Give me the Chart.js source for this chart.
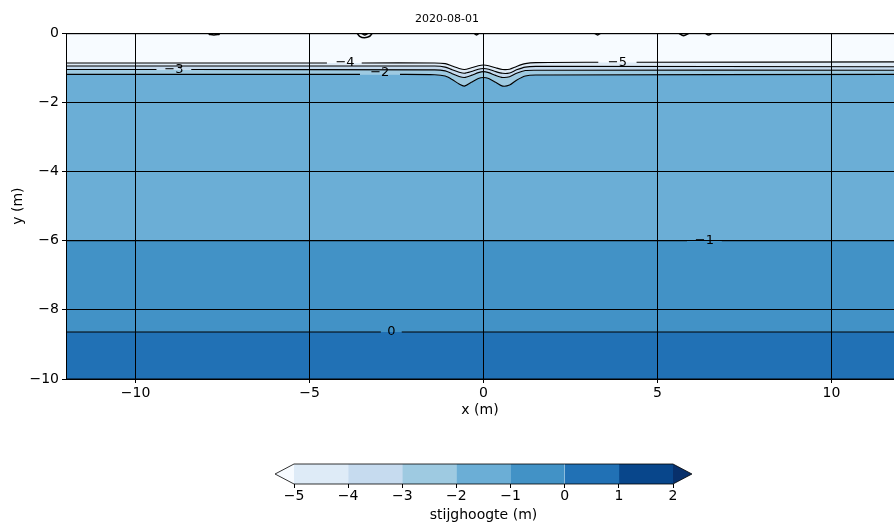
<!DOCTYPE html>
<html>
<head>
<meta charset="utf-8">
<script src="https://cdn.jsdelivr.net/npm/chart.js@4.4.1/dist/chart.umd.min.js"></script>
<style>
    body { margin: 0; background: #fff; }
    .plot { width: 894px; height: 430px; position: relative; }
    .cbar { width: 894px; height: 94px; position: relative; }
</style>
</head>
<body>
<div class="plot"><canvas id="contourChart"></canvas></div>
<div class="cbar"><canvas id="colorbarChart"></canvas></div>
<script>
// Axis ticks
const xTicks = [-10, -5, 0, 5, 10];
const yTicks = [0, -2, -4, -6, -8, -10];

// Contour lines (x in m, y in m)
const lineA_x = [-12, -4.5, -3.5, -1.4, -1.1, -0.9, -0.7, -0.55, -0.35, -0.15, 0, 0.15, 0.35, 0.55, 0.75, 0.95, 1.2, 1.5, 3.3, 4.4, 11.8];
const lineA_y = [-0.86, -0.86, -0.86, -0.86, -0.88, -0.95, -1.02, -1.05, -1.0, -0.94, -0.92, -0.94, -1.0, -1.05, -1.04, -0.96, -0.88, -0.85, -0.84, -0.84, -0.83];
const lineB_x = [-12, -1.4, -1.1, -0.9, -0.7, -0.55, -0.35, -0.15, 0, 0.15, 0.35, 0.55, 0.75, 0.95, 1.2, 1.5, 11.8];
const lineB_y = [-0.95, -0.95, -0.98, -1.06, -1.13, -1.16, -1.11, -1.04, -1.02, -1.04, -1.11, -1.16, -1.15, -1.06, -0.98, -0.96, -0.97];
const lineC_x = [-12, -9.4, -8.4, -1.4, -1.1, -0.9, -0.7, -0.55, -0.35, -0.15, 0, 0.15, 0.35, 0.55, 0.75, 0.95, 1.2, 1.5, 11.8];
const lineC_y = [-1.05, -1.05, -1.05, -1.06, -1.09, -1.17, -1.25, -1.28, -1.22, -1.14, -1.11, -1.14, -1.22, -1.28, -1.26, -1.16, -1.08, -1.07, -1.07];
const lineD_x = [-12, -3.55, -2.4, -1.4, -1.1, -0.9, -0.7, -0.55, -0.35, -0.15, 0, 0.15, 0.35, 0.55, 0.75, 0.95, 1.2, 1.5, 11.8];
const lineD_y = [-1.19, -1.19, -1.19, -1.2, -1.24, -1.34, -1.47, -1.53, -1.42, -1.31, -1.28, -1.31, -1.42, -1.53, -1.50, -1.36, -1.24, -1.21, -1.19];
const lineE_x = [-12, 5.85, 6.85, 11.8];
const lineE_y = [-6.0, -6.0, -6.0, -6.0];
const lineF_x = [-12, -2.95, -2.35, 11.8];
const lineF_y = [-8.64, -8.64, -8.64, -8.64];
const bottom_x = [-12, 11.8];
const bottom_y = [-10, -10];

// Gaps left open for the inline labels (start x of the hidden segment)
const gapsA = [-4.5, 3.3];
const gapsB = [];
const gapsC = [-9.4];
const gapsD = [-3.55];
const gapsE = [5.85];
const gapsF = [-2.95];

// Inline contour labels
const labelText = ['−4', '−5', '−3', '−2', '−1', '0'];
const labelX = [-3.98, 3.85, -8.9, -2.98, 6.35, -2.65];
const labelY = [-0.86, -0.84, -1.05, -1.15, -6.0, -8.64];

// Tiny contour bits along the top edge
const marks = [
    { x: [-7.9, -7.75, -7.58], y: [-0.03, -0.05, -0.03] },
    { x: [-3.63, -3.56, -3.42, -3.27, -3.2], y: [0, -0.09, -0.13, -0.09, 0] },
    { x: [-3.5, -3.42, -3.32], y: [0, -0.05, 0] },
    { x: [-0.27, -0.2, -0.13], y: [0, -0.05, 0] },
    { x: [3.2, 3.28, 3.36], y: [0, -0.05, 0] },
    { x: [5.62, 5.75, 5.9], y: [0, -0.07, 0] },
    { x: [6.38, 6.47, 6.56], y: [0, -0.05, 0] }
];

// Colours (Blues, 9 classes)
const bandColors = ['#f7fbff', '#deebf7', '#c6dbef', '#9ecae1', '#6baed6', '#4292c6', '#2171b5'];

// Colorbar
const cbLevels = [-5, -4, -3, -2, -1, 0, 1, 2];
const cbColors = ['#deebf7', '#c6dbef', '#9ecae1', '#6baed6', '#4292c6', '#2171b5', '#08468b'];
const cbUnder = '#f7fbff';
const cbOver = '#08306b';

Chart.defaults.font.family = "'DejaVu Sans', sans-serif";
Chart.defaults.font.size = 14;
Chart.defaults.color = '#000';

function minus(v) {
    return v < 0 ? '−' + Math.abs(v) : String(v);
}

function pts(xs, ys) {
    return xs.map((x, i) => ({ x: x, y: ys[i] }));
}

// filled band (no outline), drawn underneath
function band(xs, ys, fill, color) {
    return {
        data: pts(xs, ys),
        fill: fill,
        backgroundColor: color,
        borderColor: color,
        borderWidth: 0,
        pointRadius: 0,
        tension: 0.25,
        order: 2
    };
}

// black contour line with label gaps
function contourLine(xs, ys, gaps) {
    return {
        data: pts(xs, ys),
        fill: false,
        borderColor: '#000',
        borderWidth: 1.1,
        pointRadius: 0,
        tension: 0.25,
        order: 1,
        segment: {
            borderColor: ctx => (gaps.indexOf(ctx.p0.parsed.x) >= 0 ? 'rgba(0,0,0,0)' : undefined)
        }
    };
}

const datasets = [
    band(lineA_x, lineA_y, 'end', bandColors[0]),
    band(lineB_x, lineB_y, '-1', bandColors[1]),
    band(lineC_x, lineC_y, '-1', bandColors[2]),
    band(lineD_x, lineD_y, '-1', bandColors[3]),
    band(lineE_x, lineE_y, '-1', bandColors[4]),
    band(lineF_x, lineF_y, '-1', bandColors[5]),
    band(bottom_x, bottom_y, '-1', bandColors[6]),
    contourLine(lineA_x, lineA_y, gapsA),
    contourLine(lineB_x, lineB_y, gapsB),
    contourLine(lineC_x, lineC_y, gapsC),
    contourLine(lineD_x, lineD_y, gapsD),
    contourLine(lineE_x, lineE_y, gapsE),
    contourLine(lineF_x, lineF_y, gapsF)
];
marks.forEach(m => {
    datasets.push({
        data: pts(m.x, m.y),
        fill: false,
        borderColor: '#000',
        borderWidth: 1.6,
        pointRadius: 0,
        tension: 0.4,
        order: 0
    });
});

// inline labels
const labelPlugin = {
    id: 'clabels',
    afterDatasetsDraw(chart) {
        const { ctx, scales } = chart;
        ctx.save();
        ctx.font = "13px 'DejaVu Sans'";
        ctx.fillStyle = '#000';
        ctx.textAlign = 'center';
        ctx.textBaseline = 'middle';
        labelText.forEach((t, i) => {
            ctx.fillText(t, scales.x.getPixelForValue(labelX[i]), scales.y.getPixelForValue(labelY[i]));
        });
        ctx.restore();
    }
};

// frame around the axes
const framePlugin = {
    id: 'frame',
    afterDraw(chart) {
        const { ctx, chartArea: a } = chart;
        ctx.save();
        ctx.strokeStyle = '#000';
        ctx.lineWidth = 1;
        ctx.strokeRect(a.left + 0.5, a.top + 0.5, a.right - a.left, a.bottom - a.top - 0.5);
        ctx.restore();
    }
};

new Chart(document.getElementById('contourChart'), {
    type: 'scatter',
    data: { datasets: datasets },
    plugins: [labelPlugin, framePlugin],
    options: {
        responsive: true,
        maintainAspectRatio: false,
        animation: false,
        showLine: true,
        layout: { padding: { top: 0, left: 0, right: 0, bottom: 11 } },
        plugins: {
            legend: { display: false },
            tooltip: { enabled: false },
            title: {
                display: true,
                text: '2020-08-01',
                font: { size: 11, weight: 'normal' },
                padding: { top: 13, bottom: 7 }
            }
        },
        scales: {
            x: {
                type: 'linear',
                min: -12,
                max: 11.8,
                afterBuildTicks: s => { s.ticks = xTicks.map(v => ({ value: v })); },
                afterFit: s => { s.height = 40; },
                ticks: { callback: v => minus(v), padding: 2, maxRotation: 0 },
                grid: { color: '#000', lineWidth: 1, tickLength: 4, z: 1 },
                border: { display: false },
                title: { display: true, text: 'x (m)', padding: { top: 0, bottom: 0 } }
            },
            y: {
                type: 'linear',
                min: -10,
                max: 0,
                afterBuildTicks: s => { s.ticks = yTicks.map(v => ({ value: v })); },
                afterFit: s => { s.width = 66; },
                ticks: { callback: v => minus(v), padding: 3 },
                grid: { color: '#000', lineWidth: 1, tickLength: 4, z: 1 },
                border: { display: false },
                title: { display: true, text: 'y (m)', padding: { top: 10, bottom: 0 } }
            }
        }
    }
});

// Colorbar: floating bars, with triangle ends and outline
const cbPlugin = {
    id: 'cbEnds',
    afterDatasetsDraw(chart) {
        const { ctx, chartArea: a, scales } = chart;
        const l = scales.x.getPixelForValue(cbLevels[0]);
        const r = scales.x.getPixelForValue(cbLevels[cbLevels.length - 1]);
        const ext = 0.05 * (r - l);
        const mid = (a.top + a.bottom) / 2;
        ctx.save();
        ctx.fillStyle = cbUnder;
        ctx.beginPath();
        ctx.moveTo(l, a.top); ctx.lineTo(l - ext, mid); ctx.lineTo(l, a.bottom); ctx.closePath();
        ctx.fill();
        ctx.fillStyle = cbOver;
        ctx.beginPath();
        ctx.moveTo(r, a.top); ctx.lineTo(r + ext, mid); ctx.lineTo(r, a.bottom); ctx.closePath();
        ctx.fill();
        ctx.strokeStyle = '#000';
        ctx.lineWidth = 0.8;
        ctx.beginPath();
        ctx.moveTo(l, a.top); ctx.lineTo(r, a.top); ctx.lineTo(r + ext, mid);
        ctx.lineTo(r, a.bottom); ctx.lineTo(l, a.bottom); ctx.lineTo(l - ext, mid); ctx.closePath();
        ctx.stroke();
        ctx.restore();
    }
};

new Chart(document.getElementById('colorbarChart'), {
    type: 'bar',
    data: {
        labels: [''],
        datasets: cbColors.map((c, i) => ({
            data: [[cbLevels[i], cbLevels[i + 1]]],
            backgroundColor: c,
            borderWidth: 0,
            grouped: false,
            barPercentage: 1,
            categoryPercentage: 1
        }))
    },
    plugins: [cbPlugin],
    options: {
        indexAxis: 'y',
        responsive: true,
        maintainAspectRatio: false,
        animation: false,
        layout: { padding: { left: 294, right: 221, top: 34, bottom: 0 } },
        plugins: { legend: { display: false }, tooltip: { enabled: false } },
        scales: {
            x: {
                type: 'linear',
                min: -5,
                max: 2,
                afterBuildTicks: s => { s.ticks = cbLevels.map(v => ({ value: v })); },
                afterFit: s => { s.height = 40; },
                ticks: { callback: v => minus(v), padding: 0, maxRotation: 0 },
                grid: { drawOnChartArea: false, drawTicks: true, tickLength: 4, color: '#000' },
                border: { display: false },
                title: { display: true, text: 'stijghoogte (m)', padding: { top: 0, bottom: 0 } }
            },
            y: { display: false }
        }
    }
});
</script>
</body>
</html>
